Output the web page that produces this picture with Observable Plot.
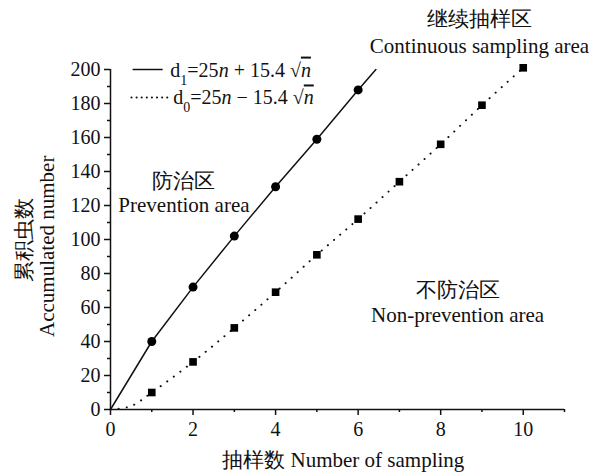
<!DOCTYPE html>
<html><head><meta charset="utf-8">
<script src="https://cdn.jsdelivr.net/npm/d3@7"></script>
<script src="https://cdn.jsdelivr.net/npm/@observablehq/plot@0.6"></script>
<style>
body{margin:0;background:#fff}
</style>
</head><body><div id="chart"></div>
<script>
// Data
const samplesD1 = [1, 2, 3, 4, 5, 6];
const valuesD1 = [40, 72, 102, 131, 159, 188];
const samplesD0 = [1, 2, 3, 4, 5, 6, 7, 8, 9, 10];
const valuesD0 = [10, 28, 48, 69, 91, 112, 134, 156, 179, 201];
// boundary curves
const curveD1X = [0, 1, 2, 3, 4, 5, 6, 6.43];
const curveD1Y = [0, 40, 72, 102, 131, 159, 188, 200];
const curveD0X = [0, 0.5, 1, 2, 3, 4, 5, 6, 7, 8, 9, 10];
const curveD0Y = [0, 2, 10, 28, 48, 69, 91, 112, 134, 156, 179, 201];
// ticks
const xMajor = [0, 2, 4, 6, 8, 10];
const xMinor = [1, 3, 5, 7, 9, 11];
const yMajor = [0, 20, 40, 60, 80, 100, 120, 140, 160, 180, 200];
const yMinor = [10, 30, 50, 70, 90, 110, 130, 150, 170, 190];

const pts1 = samplesD1.map((n, i) => ({n, v: valuesD1[i]}));
const pts0 = samplesD0.map((n, i) => ({n, v: valuesD0[i]}));
const c1 = curveD1X.map((n, i) => ({n, v: curveD1Y[i]}));
const c0 = curveD0X.map((n, i) => ({n, v: curveD0Y[i]}));

const FONT = "Liberation Serif";
const txt = {fill: "#111", fontSize: 21, fontFamily: FONT};
const plot = Plot.plot({
  width: 598, height: 473,
  marginLeft: 110, marginRight: 34, marginTop: 69, marginBottom: 64,
  x: {domain: [0, 11]},
  y: {domain: [0, 200]},
  style: {fontSize: "20px", color: "#111", background: "#fff"},
  marks: [
    Plot.ruleY([0], {stroke: "#111", strokeWidth: 1.5}),
    Plot.ruleX([0], {stroke: "#111", strokeWidth: 1.5}),
    Plot.axisX(xMajor, {tickSize: 6, tickPadding: 6, label: null, fontSize: 20, fontFamily: FONT, strokeWidth: 1.5}),
    Plot.axisX(xMinor, {tickSize: 3, text: null, label: null, strokeWidth: 1.5}),
    Plot.axisY(yMajor, {tickSize: 6, tickPadding: 4, label: null, fontSize: 20, fontFamily: FONT, strokeWidth: 1.5}),
    Plot.axisY(yMinor, {tickSize: 3, text: null, label: null, strokeWidth: 1.5}),
    Plot.line(c1, {x: "n", y: "v", stroke: "#111", strokeWidth: 1.5}),
    Plot.line(c0, {x: "n", y: "v", curve: "catmull-rom", stroke: "#111", strokeWidth: 2, strokeDasharray: "0.1,8", strokeLinecap: "round"}),
    Plot.dot(pts1, {x: "n", y: "v", r: 4.5, fill: "#000", symbol: "circle"}),
    Plot.dot(pts0, {x: "n", y: "v", r: 4.3, fill: "#000", symbol: "square"}),
    // legend
    Plot.ruleY([200], {x1: 0.547, x2: 1.276, stroke: "#111", strokeWidth: 1.5}),
    Plot.ruleY([183.5], {x1: 0.52, x2: 1.42, stroke: "#111", strokeWidth: 2, strokeDasharray: "0.1,5", strokeLinecap: "round"}),
    Plot.text(["d1"], {x: 1.45, y: 199.6, textAnchor: "start", className: "leg-d1", ...txt, fontSize: 20}),
    Plot.text(["d0"], {x: 1.52, y: 183.2, textAnchor: "start", className: "leg-d0", ...txt, fontSize: 20}),
    // region annotations
    Plot.text(["继续抽样区"], {x: 8.94, y: 229.5, ...txt}),
    Plot.text(["Continuous sampling area"], {x: 8.94, y: 213.6, ...txt}),
    Plot.text(["防治区"], {x: 1.77, y: 134.5, ...txt}),
    Plot.text(["Prevention area"], {x: 1.78, y: 120.4, ...txt}),
    Plot.text(["不防治区"], {x: 8.41, y: 70.2, ...txt}),
    Plot.text(["Non-prevention area"], {x: 8.41, y: 55.5, ...txt}),
    // axis titles
    Plot.text(["累积虫数"], {x: -2.08, y: 100, rotate: -90, ...txt}),
    Plot.text(["Accumulated number"], {x: -1.54, y: 96, rotate: -90, ...txt}),
    Plot.text(["抽样数 Number of sampling"], {x: 5.64, y: -30, ...txt})
  ]
});
const root = d3.select(plot);
root.attr("font-family", FONT);
root.selectAll("g").attr("font-family", FONT);
root.selectAll("text").attr("font-family", FONT).style("font-family", FONT);
document.getElementById("chart").append(plot);

function formula(sel, sub, sign) {
  const t = d3.select(plot).select(sel).select("text");
  t.text(null);
  t.append("tspan").text("d");
  t.append("tspan").attr("baseline-shift", "sub").attr("font-size", 14).text(sub);
  t.append("tspan").text("=25");
  t.append("tspan").attr("font-style", "italic").text("n");
  t.append("tspan").text(" " + sign + " 15.4 √");
  t.append("tspan").attr("font-style", "italic").attr("text-decoration", "overline").text("n");
}
formula(".leg-d1", "1", "+");
formula(".leg-d0", "0", "−");
</script>
</body></html>
